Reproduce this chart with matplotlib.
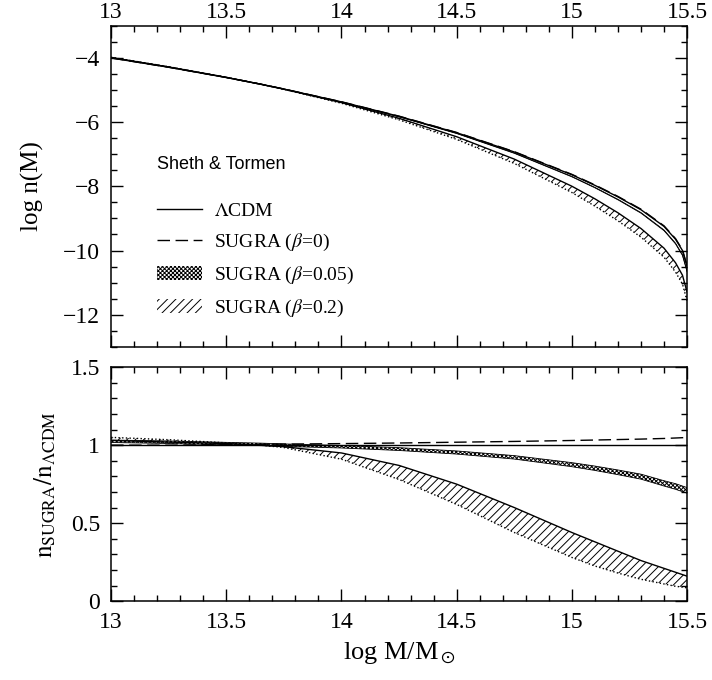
import numpy as np
import matplotlib
matplotlib.use("Agg")
import matplotlib.pyplot as plt
from matplotlib.lines import Line2D
from matplotlib.patches import Patch
from matplotlib.ticker import MultipleLocator

# ------------------------------------------------------------
# data
# ------------------------------------------------------------
log_m = [13.0, 13.25, 13.5, 13.65, 13.75, 14.0, 14.25, 14.5, 14.75,
         15.0, 15.1, 15.2, 15.3, 15.4, 15.45, 15.48, 15.5]

# top panel: log n(M)
logn_lcdm = [-4.00, -4.29, -4.61, -4.82, -4.97, -5.37, -5.82, -6.33, -6.93,
             -7.64, -7.97, -8.33, -8.73, -9.25, -9.65, -10.00, -10.50]
logn_b0 = [-4.000, -4.290, -4.608, -4.817, -4.967, -5.366, -5.814, -6.322, -6.920,
           -7.627, -7.956, -8.315, -8.713, -9.232, -9.630, -9.980, -10.479]
logn_b005_hi = [-3.986, -4.278, -4.602, -4.814, -4.967, -5.371, -5.827, -6.346, -6.960,
                -7.692, -8.033, -8.405, -8.819, -9.362, -9.773, -10.132, -10.638]
logn_b005_lo = [-3.993, -4.285, -4.609, -4.821, -4.974, -5.378, -5.835, -6.356, -6.971,
                -7.705, -8.047, -8.421, -8.837, -9.382, -9.795, -10.154, -10.660]
logn_b02_hi = [-3.987, -4.281, -4.606, -4.820, -4.974, -5.392, -5.881, -6.455, -7.152,
               -7.997, -8.390, -8.825, -9.315, -9.928, -10.383, -10.770, -11.296]
logn_b02_lo = [-3.979, -4.275, -4.603, -4.820, -4.977, -5.411, -5.928, -6.538, -7.287,
               -8.193, -8.618, -9.075, -9.584, -10.209, -10.672, -11.046, -11.571]

# bottom panel: n_SUGRA / n_LCDM
ratio_lcdm = [1.0] * len(log_m)
ratio_b0 = [1.000, 1.000, 1.004, 1.006, 1.007, 1.010, 1.014, 1.019, 1.024,
            1.030, 1.033, 1.036, 1.039, 1.043, 1.046, 1.048, 1.050]
ratio_b005_hi = [1.033, 1.027, 1.018, 1.013, 1.008, 0.998, 0.984, 0.963, 0.933,
                 0.888, 0.866, 0.841, 0.814, 0.772, 0.753, 0.738, 0.728]
ratio_b005_lo = [1.017, 1.011, 1.002, 0.997, 0.992, 0.982, 0.966, 0.943, 0.911,
                 0.862, 0.838, 0.811, 0.782, 0.738, 0.717, 0.702, 0.692]
ratio_b02_hi = [1.030, 1.020, 1.010, 1.000, 0.990, 0.950, 0.870, 0.750, 0.600,
                0.440, 0.380, 0.320, 0.260, 0.210, 0.185, 0.170, 0.160]
ratio_b02_lo = [1.050, 1.035, 1.015, 1.000, 0.985, 0.910, 0.780, 0.620, 0.440,
                0.280, 0.225, 0.180, 0.140, 0.110, 0.095, 0.090, 0.085]

x_ticks = [13, 13.5, 14, 14.5, 15, 15.5]
x_ticklabels = ["13", "13.5", "14", "14.5", "15", "15.5"]

# ------------------------------------------------------------
# style
# ------------------------------------------------------------
plt.rcParams["font.family"] = ["Liberation Serif", "DejaVu Serif"]
plt.rcParams["mathtext.fontset"] = "stix"
plt.rcParams["hatch.linewidth"] = 0.7
plt.rcParams["axes.linewidth"] = 1.1

TICK_FS = 17


def style_axis(ax):
    ax.tick_params(which="both", direction="in", top=True, right=True,
                   width=1.0, labelsize=TICK_FS)
    ax.tick_params(which="major", length=8.5)
    ax.tick_params(which="minor", length=4.5)
    ax.tick_params(axis="y", pad=8)
    ax.set_xlim(13, 15.5)
    ax.set_xticks(x_ticks)
    ax.set_xticklabels(x_ticklabels)
    ax.xaxis.set_minor_locator(MultipleLocator(0.1))


def draw_panel(ax, lcdm, b0, b005_lo, b005_hi, b02_lo, b02_hi):
    # beta = 0.2 hatched band (solid upper, dotted lower edge)
    ax.fill_between(log_m, b02_lo, b02_hi, facecolor="none", edgecolor="black",
                    hatch="////", linewidth=0)
    ax.plot(log_m, b02_hi, color="black", lw=1.0)
    ax.plot(log_m, b02_lo, color="black", lw=1.0, ls=":")
    # beta = 0.05 stippled band
    ax.fill_between(log_m, b005_lo, b005_hi, facecolor="none", edgecolor="black",
                    hatch="xxxxxxxx", linewidth=0)
    ax.plot(log_m, b005_hi, color="black", lw=0.6)
    ax.plot(log_m, b005_lo, color="black", lw=0.6)
    # LCDM and beta = 0
    ax.plot(log_m, lcdm, color="black", lw=1.0)
    ax.plot(log_m, b0, color="black", lw=1.0, dashes=(9, 4))


fig = plt.figure(figsize=(7.12, 6.8), dpi=100)
ax1 = fig.add_axes([0.156, 0.490, 0.809, 0.472])
ax2 = fig.add_axes([0.156, 0.116, 0.809, 0.344])

# ---- top panel ----
draw_panel(ax1, logn_lcdm, logn_b0, logn_b005_lo, logn_b005_hi, logn_b02_lo, logn_b02_hi)
style_axis(ax1)
ax1.set_ylim(-13, -3)
ax1.set_yticks([-12, -10, -8, -6, -4])
ax1.set_yticklabels(["\u221212", "\u221210", "\u22128", "\u22126", "\u22124"])
ax1.yaxis.set_minor_locator(MultipleLocator(0.5))
ax1.tick_params(axis="x", labeltop=True, labelbottom=False, pad=2)
ax1.set_ylabel("log n(M)", fontsize=18, labelpad=14)

ax1.text(0.08, 0.567, "Sheth & Tormen", transform=ax1.transAxes,
         family="Liberation Sans", fontsize=13, va="center", ha="left")

handles = [
    Line2D([], [], color="black", lw=1.0),
    Line2D([], [], color="black", lw=1.0, dashes=(9, 4)),
    Patch(facecolor="white", edgecolor="black", hatch="xxxxxxxx", linewidth=0),
    Patch(facecolor="white", edgecolor="black", hatch="////", linewidth=0),
]
labels = [r"$\Lambda$CDM", r"SUGRA ($\beta$=0)", r"SUGRA ($\beta$=0.05)",
          r"SUGRA ($\beta$=0.2)"]
ax1.legend(handles, labels, loc="upper left", bbox_to_anchor=(0.08, 0.449),
           frameon=False, fontsize=14, borderpad=0, borderaxespad=0,
           handlelength=2.3, handletextpad=0.6, labelspacing=0.6)

# ---- bottom panel ----
draw_panel(ax2, ratio_lcdm, ratio_b0, ratio_b005_lo, ratio_b005_hi, ratio_b02_lo, ratio_b02_hi)
style_axis(ax2)
ax2.set_ylim(0, 1.5)
ax2.set_yticks([0, 0.5, 1, 1.5])
ax2.set_yticklabels(["0", "0.5", "1", "1.5"])
ax2.yaxis.set_minor_locator(MultipleLocator(0.1))
ax2.tick_params(axis="x", labeltop=False, labelbottom=True, pad=8)
ax2.set_ylabel(r"$\rm n_{SUGRA}/n_{\Lambda CDM}$", fontsize=18, labelpad=9)
ax2.set_xlabel(r"log M/M$_\odot$", fontsize=19, labelpad=5)

fig.savefig("out.png", dpi=100)
